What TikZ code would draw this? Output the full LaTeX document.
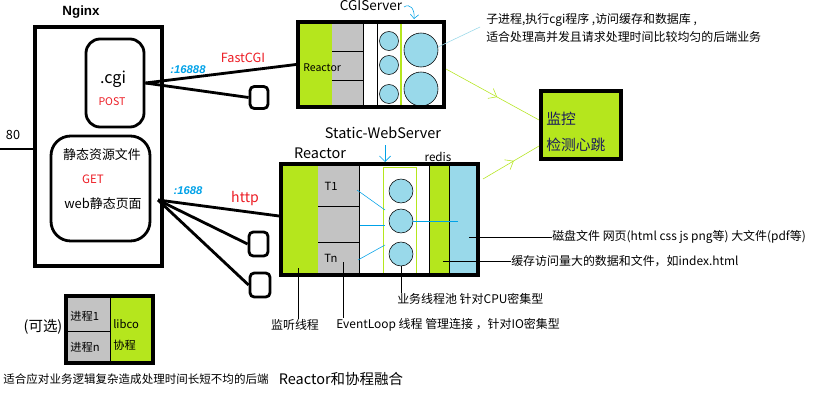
\documentclass[tikz,border=0pt]{standalone}
\usepackage{fontspec}
\setmainfont{Noto Sans CJK SC}
\newfontfamily\arialfont{Liberation Sans}
\usetikzlibrary{arrows.meta,decorations.markings}
\definecolor{limegreen}{HTML}{B5E61D}
\definecolor{paleblue}{HTML}{99D9EA}
\definecolor{boxgray}{HTML}{C3C3C3}
\definecolor{tagblue}{HTML}{00A2E8}
\definecolor{tagred}{HTML}{ED1C24}
\definecolor{navy}{HTML}{1A1A5E}
\newcommand{\pxu}{0.025cm}
\begin{document}
\begin{tikzpicture}[x=\pxu, y=-\pxu,
    thickframe/.style={rectangle, draw, line width=2.8pt, inner sep=0pt},
    roundbox/.style={rectangle, draw, line width=2pt, rounded corners=10pt, inner sep=0pt},
    tinybox/.style={rectangle, draw, line width=2pt, rounded corners=3pt, inner sep=0pt, minimum width=18*\pxu, minimum height=22*\pxu},
    ball/.style={circle, draw, fill=paleblue, thin, inner sep=0pt},
    wire/.style={line width=2pt},
    note/.style={font=\fontsize{8.5}{10}\selectfont, inner sep=0pt, anchor=west},
    small/.style={font=\fontsize{8}{9}\selectfont, inner sep=0pt},
    title/.style={font=\fontsize{10.3}{12}\selectfont, inner sep=0pt},
    redlabel/.style={text=tagred, inner sep=0pt},
    porttag/.style={text=tagblue, font=\arialfont\bfseries\itshape\fontsize{8}{9}\selectfont, inner sep=0pt},
    heartbeat/.style={draw=limegreen, thin, postaction={decorate},
        decoration={markings, mark=at position 0.55 with {\arrow{Straight Barb[length=5pt,width=8pt]}}}}]
    \useasboundingbox[fill=white] (0,0) rectangle (817,402);

    % Nginx
    \node [font=\arialfont\bfseries\fontsize{9.5}{11}\selectfont] (nginxlabel) at (81,12) {Nginx};
    \node [thickframe, minimum width=127*\pxu, minimum height=239*\pxu] (nginx) at (98.5,146.5) {};
    \node [roundbox, minimum width=58*\pxu, minimum height=88*\pxu] (cgi) at (115,83) {};
    \node [font=\fontsize{11.5}{13}\selectfont, inner sep=0pt] (cginame) at (113,79) {.cgi};
    \node [redlabel, font=\fontsize{7.5}{9}\selectfont] (post) at (112,102) {POST};
    \node [roundbox, rounded corners=14pt, minimum width=99*\pxu, minimum height=105*\pxu] (static) at (100.5,188.5) {};
    \node [font=\fontsize{9.2}{11}\selectfont, inner sep=0pt] (staticfiles) at (102,155) {静态资源文件};
    \node [redlabel, font=\fontsize{8.2}{10}\selectfont] (get) at (93,179) {GET};
    \node [font=\fontsize{9.2}{11}\selectfont, inner sep=0pt] (webpage) at (103,204) {web静态页面};
    \node [font=\fontsize{9}{11}\selectfont, inner sep=0pt] (port80) at (13,135) {80};
    \coordinate (inlet) at (0,149);
    \draw [wire] (inlet) -- (inlet -| nginx.west);

    % CGIServer
    \node [font=\fontsize{9.6}{11}\selectfont, inner sep=0pt] (cgititle) at (371,6) {CGIServer};
    \coordinate (curlstart) at (404,7);
    \coordinate (curlend) at (414,19);
    \draw [tagblue, -{Straight Barb[length=3pt]}] (curlstart) .. controls (410,3) and (415,9) .. (curlend);
    \fill [limegreen] (300,24) rectangle (332,105);
    \fill [boxgray] (332,24) rectangle (363,105);
    \draw (332,51) -- (363,51);
    \draw (332,80) -- (363,80);
    \draw (363,24) -- (363,105);
    \draw (377,24) -- (377,105);
    \draw [limegreen, thick] (401,22) -- (401,107);
    \node [ball, minimum size=19*\pxu] (sc1) at (389,41) {};
    \node [ball, minimum size=19*\pxu] (sc2) at (389,65) {};
    \node [ball, minimum size=19*\pxu] (sc3) at (389,94) {};
    \node [ball, minimum size=34*\pxu] (bc1) at (421,50) {};
    \node [ball, minimum size=34*\pxu] (bc2) at (421,89) {};
    \node [thickframe, minimum width=146*\pxu, minimum height=85*\pxu] (cgisrv) at (371,64.5) {};
    \node [font=\fontsize{7.5}{9}\selectfont, inner sep=0pt, anchor=west] (cgireactor) at (303,68) {Reactor};
    \node [note] (cgidesc1) at (486,20) {子进程,执行cgi程序 ,访问缓存和数据库 ,};
    \node [note] (cgidesc2) at (486,37) {适合处理高并发且请求处理时间比较均匀的后端业务};
    \coordinate (cgidescpt) at (480,27);
    \draw [paleblue] (bc1.10) -- (cgidescpt);

    % FastCGI link
    \node [tinybox] (cgitiny) at (259,97.5) {};
    \draw [wire] (cgi.east) -- (cgisrv.west);
    \draw [wire] (cgi.east) -- (cgitiny.west);
    \node [porttag] (cgiport) at (188,70) {:16888};
    \node [redlabel, font=\fontsize{9}{11}\selectfont] (fastcgi) at (243,58) {FastCGI};

    % monitor
    \node [thickframe, fill=limegreen, minimum width=80*\pxu, minimum height=68*\pxu] (monitor) at (581,125) {};
    \node [text=navy, font=\fontsize{10.5}{12}\selectfont, inner sep=0pt, anchor=west] (watch) at (546,119) {监控};
    \node [text=navy, font=\fontsize{10.5}{12}\selectfont, inner sep=0pt, anchor=west] (pulse) at (546,145) {检测心跳};
    \coordinate (hb1) at (446,69);
    \coordinate (hb2) at (483,179);
    \draw [heartbeat] (hb1) -- (monitor.west |- 0,120);
    \draw [heartbeat] (hb2) -- (monitor.west |- 0,146);

    % Static-WebServer
    \node [title] (webtitle) at (383,133) {Static-WebServer};
    \node [title] (webreactor) at (320,153) {Reactor};
    \node [font=\fontsize{8.3}{10}\selectfont, inner sep=0pt] (redis) at (438,157) {redis};
    \coordinate (downstart) at (385,145);
    \coordinate (downend) at (385,162);
    \draw [tagblue, -{Straight Barb[length=4pt]}] (downstart) -- (downend);
    \fill [limegreen] (283,166) rectangle (318,273);
    \fill [boxgray] (318,166) rectangle (359,273);
    \draw (318,206) -- (359,206);
    \draw (318,242) -- (359,242);
    \draw (359,166) -- (359,273);
    \fill [limegreen] (429,166) rectangle (449,273);
    \fill [paleblue] (449,166) rectangle (476,273);
    \draw (429,166) -- (429,273);
    \draw (449,166) -- (449,273);
    \draw [limegreen] (383,167) rectangle (416,274);
    \node [ball, minimum size=24*\pxu] (c1) at (401,191) {};
    \node [ball, minimum size=24*\pxu] (c2) at (401,221) {};
    \node [ball, minimum size=24*\pxu] (c3) at (401,254) {};
    \node [thickframe, minimum width=197*\pxu, minimum height=111*\pxu] (websrv) at (379.5,219.5) {};
    \node [small] (t1) at (331,186) {T1};
    \node [small] (tn) at (331,258) {Tn};
    \coordinate (g1) at (357,190); \coordinate (p1) at (385,210);
    \coordinate (g2) at (360,225); \coordinate (p2) at (385,225);
    \coordinate (g3) at (358,260); \coordinate (p3) at (385,245);
    \coordinate (cachept) at (458,221);
    \draw [tagblue] (g1) -- (p1);
    \draw [tagblue] (g2) -- (p2);
    \draw [tagblue] (g3) -- (p3);
    \draw [tagblue] (c2.east) -- (cachept);

    % http link
    \coordinate (httpsrc) at (158,200);
    \node [tinybox, minimum width=19*\pxu, minimum height=24*\pxu] (webtiny1) at (258.5,244) {};
    \node [tinybox, minimum width=20*\pxu, minimum height=24*\pxu] (webtiny2) at (260,285) {};
    \draw [wire] (httpsrc) -- (websrv.west |- 0,216);
    \draw [wire] (httpsrc) -- (webtiny1.west);
    \draw [wire] (httpsrc) -- (webtiny2.west);
    \node [porttag] (webport) at (188,191) {:1688};
    \node [redlabel, font=\fontsize{10}{12}\selectfont] (http) at (245,199) {http};

    % annotations
    \node [note] (disk) at (552,237) {磁盘文件 网页(html css js png等) 大文件(pdf等)};
    \node [note] (cache) at (511,261) {缓存访问量大的数据和文件，如index.html};
    \node [note] (pool) at (397,299) {业务线程池 针对CPU密集型};
    \node [note, anchor=center] (listen) at (295,325) {监听线程};
    \node [note] (loop) at (336,325) {EventLoop 线程 管理连接 ，针对IO密集型};
    \coordinate (diskpt) at (469,237);
    \coordinate (cachefrom) at (443,261);
    \coordinate (listenpt) at (298,268);
    \coordinate (looppt) at (343,262);
    \draw (diskpt) -- (disk.west);
    \draw (cachefrom) -- (cache.west);
    \draw (c3.south) -- (c3.south |- pool.north);
    \draw (listenpt) -- (listenpt |- listen.north);
    \draw (looppt) -- (looppt |- loop.north);

    % libco
    \fill [boxgray] (68,298) rectangle (110,361);
    \fill [limegreen] (110,298) rectangle (151,361);
    \draw (68,331) -- (110,331);
    \draw (110,298) -- (110,361);
    \node [thickframe, minimum width=87*\pxu, minimum height=67*\pxu] (libco) at (109.5,329.5) {};
    \node [small, anchor=west] (proc1) at (70,316) {进程1};
    \node [small, anchor=west] (procn) at (70,347) {进程n};
    \node [small, anchor=west] (libconame) at (113,324) {libco};
    \node [small, anchor=west] (coro) at (113,345) {协程};
    \node [title] (optional) at (43,327) {(可选)};
    \node [font=\fontsize{8.2}{10}\selectfont, inner sep=0pt] (backend) at (136,379) {适合应对业务逻辑复杂造成处理时间长短不均的后端};
    \node [title] (fusion) at (341,379) {Reactor和协程融合};
\end{tikzpicture}
\end{document}
